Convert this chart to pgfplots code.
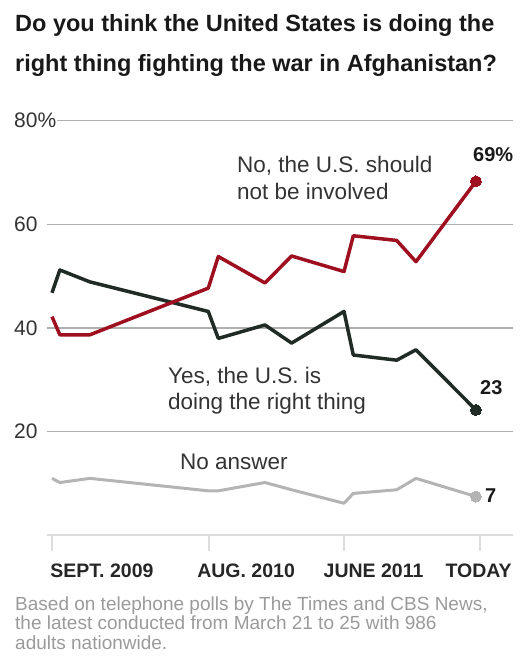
\documentclass[border=0pt]{standalone}
\usepackage{pgfplots}
\pgfplotsset{compat=1.18}
\usepackage{fontspec}
\setmainfont{Liberation Sans}

\definecolor{noRed}{HTML}{9E1020}
\definecolor{yesDark}{HTML}{1F2B24}
\definecolor{naGray}{HTML}{B4B4B4}
\definecolor{gridGray}{HTML}{B0B0B0}
\definecolor{baseGray}{HTML}{DDDDDD}
\definecolor{txt}{HTML}{333333}
\definecolor{footGray}{HTML}{9A9A9A}

\begin{document}
\begin{tikzpicture}
  \path[use as bounding box] (0,0) rectangle (521pt,669pt);

  % title
  \node[anchor=base west, inner sep=0pt, font=\fontsize{23.5}{28}\selectfont\bfseries, text=black!90]
    at (15pt,637.3pt) {Do you think the United States is doing the};
  \node[anchor=base west, inner sep=0pt, font=\fontsize{23.5}{28}\selectfont\bfseries, text=black!90]
    at (15pt,597.3pt) {right thing fighting the war in Afghanistan?};

  \begin{axis}[
    at={(47pt,133.6pt)}, anchor=south west,
    scale only axis,
    width=466pt, height=414.7pt,
    xmin=-0.35, xmax=32.3,
    ymin=0, ymax=80,
    clip=false,
    axis line style={draw=none},
    ymajorgrids,
    grid style={gridGray, line width=1.2pt},
    ytick={20,40,60,80},
    yticklabels={20,40,60,80\%},
    ytick style={draw=none},
    yticklabel style={anchor=west, xshift=-18pt, fill=white, inner xsep=1pt,
      font=\fontsize{21}{24}\selectfont, text=txt},
    tick align=outside,
    xtick pos=bottom,
    major tick length=16pt,
    xtick={0,11,20.46,30},
    xticklabels={,,,},
    xtick style={baseGray, line width=1.5pt},
    xticklabel style={anchor=base, font=\fontsize{19.5}{22}\selectfont\bfseries, text=black!85},
    extra x ticks={3.5,13.6,22.53,29.89},
    extra x tick labels={SEPT. 2009, AUG. 2010, JUNE 2011, TODAY},
    extra x tick style={major tick length=0pt, xtick style={draw=none},
      xticklabel style={yshift=-42.6pt}},
  ]
    \draw[baseGray, line width=2pt] (axis cs:-0.35,0) -- (axis cs:32.3,0);

    % No answer
    \addplot[naGray, line width=3pt, line join=round, mark=*, mark indices={12},
      mark size=5.5pt, mark options={fill=naGray, draw=naGray, line width=0pt}] coordinates {
      (0,11.0) (0.55,10.2) (2.66,11.0) (10.95,8.6) (11.65,8.6) (14.92,10.2)
      (16.79,8.8) (20.46,6.2) (21.11,8.1) (24.15,8.8) (25.5,11.0) (29.7,7.5)
    };
    % Yes
    \addplot[yesDark, line width=3.5pt, line join=round, mark=*, mark indices={12},
      mark size=5.5pt, mark options={fill=yesDark, draw=yesDark, line width=0pt}] coordinates {
      (0,46.8) (0.55,51.2) (2.66,48.9) (10.95,43.2) (11.65,38.0) (14.92,40.6)
      (16.79,37.1) (20.46,43.2) (21.11,34.8) (24.15,33.8) (25.5,35.8) (29.7,24.2)
    };
    % No
    \addplot[noRed, line width=3.5pt, line join=round, mark=*, mark indices={12},
      mark size=5.5pt, mark options={fill=noRed, draw=noRed, line width=0pt}] coordinates {
      (0,42.2) (0.55,38.7) (2.66,38.7) (10.95,47.7) (11.65,53.8) (14.92,48.7)
      (16.79,53.9) (20.46,50.9) (21.11,57.8) (24.15,56.9) (25.5,52.8) (29.7,68.3)
    };
  \end{axis}

  % series labels
  \node[anchor=base west, inner sep=0pt, font=\fontsize{22.5}{27}\selectfont, text=txt]
    at (237pt,496pt) {No, the U.S. should};
  \node[anchor=base west, inner sep=0pt, font=\fontsize{22.5}{27}\selectfont, text=txt]
    at (237pt,469pt) {not be involved};
  \node[anchor=base west, inner sep=0pt, font=\fontsize{20}{24}\selectfont\bfseries, text=black!90]
    at (473pt,507pt) {69\%};

  \node[anchor=base west, inner sep=0pt, font=\fontsize{22.5}{27}\selectfont, text=txt]
    at (168pt,285pt) {Yes, the U.S. is};
  \node[anchor=base west, inner sep=0pt, font=\fontsize{22.5}{27}\selectfont, text=txt]
    at (168pt,259pt) {doing the right thing};
  \node[anchor=base west, inner sep=0pt, font=\fontsize{20}{24}\selectfont\bfseries, text=black!90]
    at (480pt,274pt) {23};

  \node[anchor=base west, inner sep=0pt, font=\fontsize{22.5}{27}\selectfont, text=txt]
    at (180pt,199pt) {No answer};
  \node[anchor=base west, inner sep=0pt, font=\fontsize{20}{24}\selectfont\bfseries, text=black!90]
    at (485pt,166pt) {7};

  % footer
  \node[anchor=base west, inner sep=0pt, font=\fontsize{19}{22}\selectfont, text=footGray]
    at (15pt,58pt) {Based on telephone polls by The Times and CBS News,};
  \node[anchor=base west, inner sep=0pt, font=\fontsize{19}{22}\selectfont, text=footGray]
    at (15pt,39pt) {the latest conducted from March 21 to 25 with 986};
  \node[anchor=base west, inner sep=0pt, font=\fontsize{19}{22}\selectfont, text=footGray]
    at (15pt,19pt) {adults nationwide.};
\end{tikzpicture}
\end{document}
